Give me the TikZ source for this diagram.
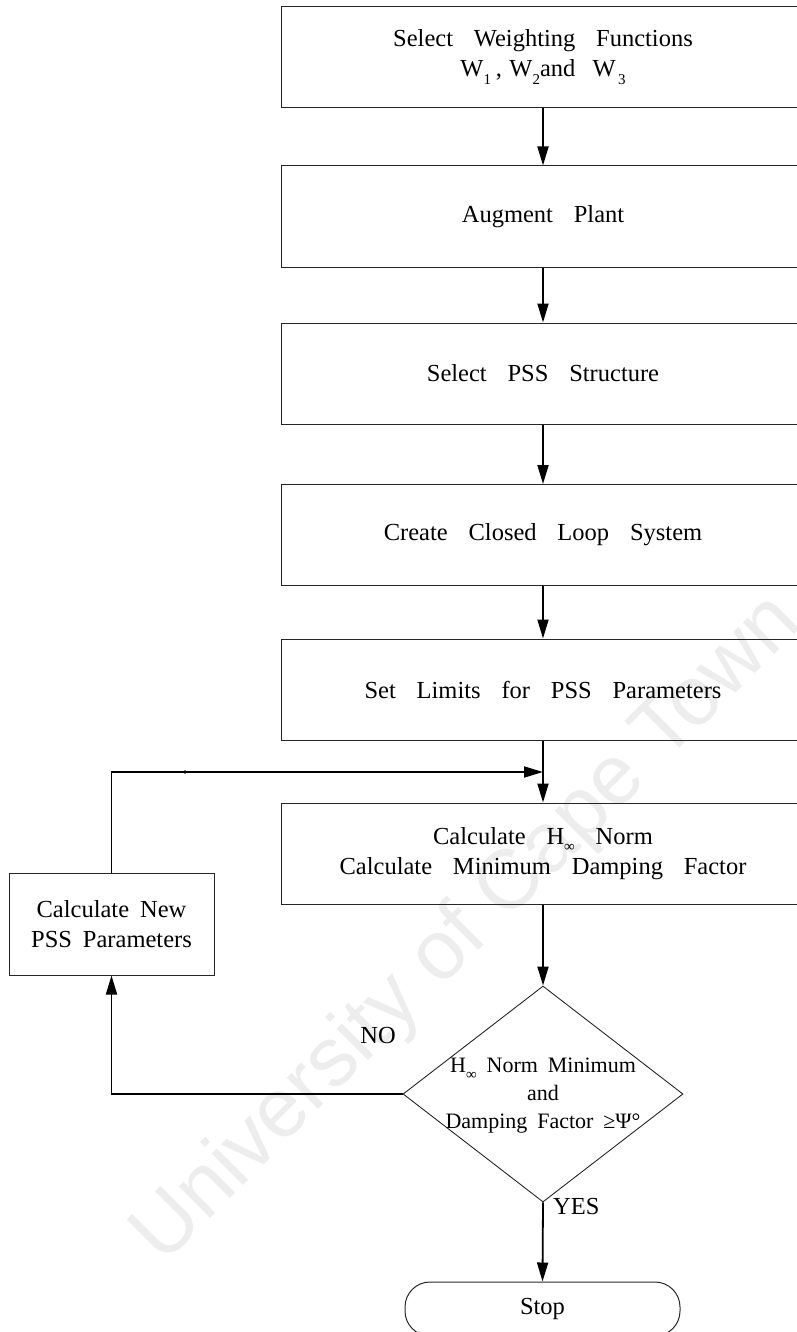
\documentclass[tikz,border=0pt]{standalone}
\usepackage{fontspec}
\setmainfont{Liberation Serif}
\newfontfamily\wmfont{Liberation Sans}
\usetikzlibrary{arrows.meta,shapes.geometric}

% text styles: wide word gaps as in a typed flowchart
\newcommand\boxfont{\fontsize{24.5}{30.5}\selectfont\spaceskip=0.85em\relax}
\newcommand\sidefont{\fontsize{24.5}{30}\selectfont\spaceskip=0.45em\relax}
\newcommand\decfont{\fontsize{22}{28}\selectfont\spaceskip=0.45em\relax}
\newcommand\lowsub[1]{\raisebox{-0.3em}{\fontsize{15}{15}\selectfont #1}}

\begin{document}
\begin{tikzpicture}[x=1pt,y=-1pt,
  stepbox/.style={draw=black!85,line width=1pt,minimum width=524pt,
    minimum height=101pt,inner sep=0pt,align=center,font=\boxfont},
  sidebox/.style={draw=black!85,line width=1pt,minimum width=205pt,
    minimum height=102pt,inner sep=0pt,align=center,font=\sidefont},
  decision/.style={draw=black!85,line width=0.9pt,diamond,
    minimum width=280pt,minimum height=216pt,inner sep=0pt},
  endbox/.style={draw=black!85,line width=1pt,rounded corners=25pt,
    minimum width=275pt,minimum height=54pt,inner sep=0pt,font=\boxfont},
  arr/.style={line width=1.8pt,-{Triangle[length=19pt,width=11pt]}},
  lbl/.style={font=\boxfont,inner sep=0pt}]

\clip (0,0) rectangle (797,1332);

% faint watermark across the sheet
\node[rotate=45,text=black!7,font=\wmfont\fontsize{84}{84}\selectfont] (wm) at (468,930) {University of Cape Town};

% main chain of steps
\node[stepbox] (b1) at (543,57) {Select Weighting Functions\\
  W\lowsub{1}\hspace{0.2em},\hspace{0.3em}W\lowsub{2}and\hspace{0.7em}W\hspace{0.1em}\lowsub{3}};
\node[stepbox] (b2) at (543,216.5) {Augment Plant};
\node[stepbox] (b3) at (543,373.5) {Select PSS Structure};
\node[stepbox] (b4) at (543,535) {Create Closed Loop System};
\node[stepbox] (b5) at (543,689.5) {Set Limits for PSS Parameters};
\node[stepbox] (b6) at (543,853.5) {Calculate H\lowsub{∞} Norm\\Calculate Minimum Damping Factor};

% side step for the iteration
\node[sidebox] (nb) at (111.5,924) {Calculate New\\PSS Parameters};

% decision and end
\node[decision] (dec) at (543,1094) {};
\node[font=\decfont,align=center,inner sep=0pt] (dect) at (543,1096) {H\lowsub{∞} Norm Minimum\\and\\Damping Factor ≥Ψ°};
\node[endbox] (stop) at (542.5,1309) {Stop};

\node[lbl,anchor=base west] (yes) at (553,1214) {YES};
\node[lbl,anchor=base east] (no) at (396,1043) {NO};

\coordinate (join) at (543,772);

% connectors
\draw[arr] (b1.south) -- (b2.north);
\draw[arr] (b2.south) -- (b3.north);
\draw[arr] (b3.south) -- (b4.north);
\draw[arr] (b4.south) -- (b5.north);
\draw[arr] (b5.south) -- (b6.north);
\draw[arr] (b6.south) -- (dec.north);
\draw[arr] (dec.south) -- (stop.north);
\draw[arr] (dec.west) -| (nb.south);
\draw[arr] (nb.north) |- (join);
\fill (185,772) circle (1.8pt);
\end{tikzpicture}
\end{document}
